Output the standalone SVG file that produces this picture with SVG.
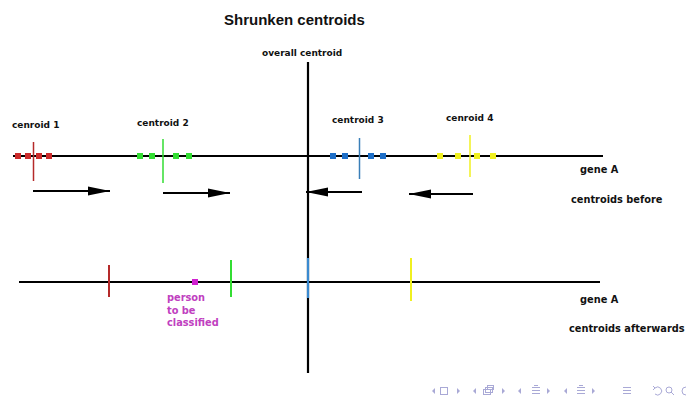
<svg xmlns="http://www.w3.org/2000/svg" width="687" height="399" viewBox="0 0 687 399">
  <style>
    .lbl { font-family: "DejaVu Sans", "Liberation Sans", sans-serif; font-weight: bold; font-size: 9px; fill: #111; }
    .big { font-size: 9.8px; }
    .pink { fill: #c040c0; }
    .title { font-family: "Liberation Sans", Arial, sans-serif; font-weight: bold; font-size: 15px; fill: #111; }
    .axis { stroke: #000; stroke-width: 2.2; fill: none; }
    .arrow { stroke: #000; stroke-width: 2; fill: none; marker-end: url(#head); }
    .nav { fill: none; stroke: #a9a9d6; stroke-width: 1; }
    .navf { fill: #a9a9d6; }
  </style>
  <defs>
    <marker id="head" markerUnits="userSpaceOnUse" markerWidth="24" markerHeight="10" refX="22" refY="5" orient="auto">
      <path d="M0,0.5 L22,5 L0,9.5 Z" fill="#000"/>
    </marker>
  </defs>
  <rect width="687" height="399" fill="#fff"/>

  <text class="title" x="224" y="25">Shrunken centroids</text>

  <!-- axes -->
  <g id="axes">
    <line class="axis" x1="308" y1="62" x2="308" y2="373"/>
    <line class="axis" x1="13" y1="156" x2="603" y2="156"/>
    <line class="axis" x1="19" y1="282" x2="600" y2="282"/>
    <text class="lbl" x="262" y="56">overall centroid</text>
  </g>

  <!-- centroids before shrinking -->
  <g id="centroid1">
    <g fill="#cc2b2b">
      <rect x="15" y="153" width="6" height="6"/>
      <rect x="25" y="153" width="6" height="6"/>
      <rect x="36" y="153" width="6" height="6"/>
      <rect x="46" y="153" width="6" height="6"/>
    </g>
    <line x1="33.5" y1="142" x2="33.5" y2="181" stroke="#b52a2a" stroke-width="1.5"/>
    <text class="lbl" x="12" y="128">cenroid 1</text>
  </g>
  <g id="centroid2">
    <g fill="#33dd33">
      <rect x="137" y="153" width="6" height="6"/>
      <rect x="149" y="153" width="6" height="6"/>
      <rect x="173" y="153" width="6" height="6"/>
      <rect x="186" y="153" width="6" height="6"/>
    </g>
    <line x1="163" y1="139" x2="163" y2="183" stroke="#33dd33" stroke-width="1.5"/>
    <text class="lbl" x="137" y="126">centroid 2</text>
  </g>
  <g id="centroid3">
    <g fill="#1e6fc8">
      <rect x="330" y="153" width="6" height="6"/>
      <rect x="342" y="153" width="6" height="6"/>
      <rect x="368" y="153" width="6" height="6"/>
      <rect x="380" y="153" width="6" height="6"/>
    </g>
    <line x1="359.5" y1="138" x2="359.5" y2="179" stroke="#3a7fb8" stroke-width="1.5"/>
    <text class="lbl" x="332" y="123">centroid 3</text>
  </g>
  <g id="centroid4">
    <g fill="#f0f020">
      <rect x="437" y="153" width="6" height="6"/>
      <rect x="455" y="153" width="6" height="6"/>
      <rect x="474" y="153" width="6" height="6"/>
      <rect x="490" y="153" width="6" height="6"/>
    </g>
    <line x1="470" y1="135" x2="470" y2="177" stroke="#f0f020" stroke-width="1.5"/>
    <text class="lbl" x="446" y="121">cenroid 4</text>
  </g>

  <!-- shrinking directions -->
  <g id="connectors">
    <line class="arrow" x1="33" y1="191" x2="110" y2="191"/>
    <line class="arrow" x1="163" y1="193" x2="230" y2="193"/>
    <line class="arrow" x1="362" y1="192" x2="306" y2="192"/>
    <line class="arrow" x1="473" y1="194" x2="409" y2="194"/>
  </g>

  <g id="labels-before">
    <text class="lbl big" x="580" y="173">gene A</text>
    <text class="lbl big" x="571" y="203">centroids before</text>
  </g>

  <!-- centroids after shrinking -->
  <g id="shrunk">
    <line x1="109" y1="265" x2="109" y2="297" stroke="#b52a2a" stroke-width="2"/>
    <line x1="231" y1="260" x2="231" y2="297" stroke="#33dd33" stroke-width="2"/>
    <line x1="308" y1="258" x2="308" y2="298" stroke="#3a8ad0" stroke-width="2.2"/>
    <line x1="411" y1="258" x2="411" y2="301" stroke="#f0f020" stroke-width="2"/>
  </g>
  <g id="person">
    <rect x="192" y="279" width="6" height="6" fill="#d020d0"/>
    <text class="lbl big pink" x="167" y="301">person</text>
    <text class="lbl big pink" x="167" y="314">to be</text>
    <text class="lbl big pink" x="167" y="326">classified</text>
  </g>
  <g id="labels-after">
    <text class="lbl big" x="580" y="303">gene A</text>
    <text class="lbl big" x="569" y="332">centroids afterwards</text>
  </g>

  <!-- navigation symbols -->
  <g id="navigation">
    <path class="navf" d="M435,388 L432,391 L435,394 Z"/>
    <rect class="nav" x="440.5" y="387.5" width="7" height="7"/>
    <path class="navf" d="M457,388 L460,391 L457,394 Z"/>
    <path class="navf" d="M476,388 L473,391 L476,394 Z"/>
    <rect class="nav" x="483.5" y="389.5" width="7" height="5"/>
    <rect class="nav" x="485.5" y="387.5" width="7" height="5" fill="#fff"/>
    <rect class="nav" x="487.5" y="385.5" width="6" height="4" fill="#fff"/>
    <path class="navf" d="M502,388 L505,391 L502,394 Z"/>
    <path class="navf" d="M521,388 L518,391 L521,394 Z"/>
    <path class="nav" d="M532,387.5 H540 M532,390.5 H540 M532,393.5 H540 M534,385.5 H538"/>
    <path class="navf" d="M547,388 L550,391 L547,394 Z"/>
    <path class="navf" d="M567,388 L564,391 L567,394 Z"/>
    <path class="nav" d="M577,387.5 H585 M577,390.5 H585 M577,393.5 H585 M579,385.5 H583"/>
    <path class="navf" d="M592,388 L595,391 L592,394 Z"/>
    <path class="nav" d="M623,387.5 H631 M623,390.5 H631 M623,393.5 H631"/>
    <path class="nav" d="M655,388 A4,4 0 1 1 655,394 M653,386 L655,388 L653,390"/>
    <circle class="nav" cx="669" cy="390" r="3"/>
    <path class="nav" d="M671,392 L674,395"/>
    <path class="nav" d="M686,387 A4,4 0 1 0 686,395"/>
  </g>
</svg>
